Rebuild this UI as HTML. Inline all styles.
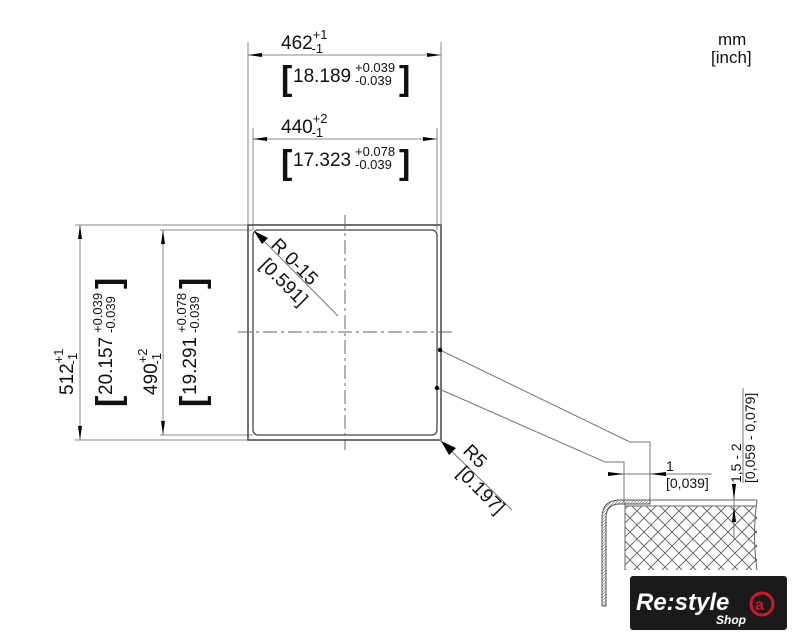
<!DOCTYPE html>
<html><head><meta charset="utf-8"><style>
html,body{margin:0;padding:0;background:#fff;}
svg{display:block;font-family:"Liberation Sans",Arial,sans-serif;}
</style></head><body>
<svg width="800" height="640" viewBox="0 0 800 640" xmlns="http://www.w3.org/2000/svg">
<defs>
<pattern id="hx" width="14" height="14" patternUnits="userSpaceOnUse">
<path d="M0 0L14 14M14 0L0 14" stroke="#555" stroke-width="0.8" fill="none"/>
</pattern>
<pattern id="hs" width="3" height="3" patternUnits="userSpaceOnUse">
<path d="M0 3L3 0" stroke="#666" stroke-width="0.6"/>
</pattern>
</defs>
<g stroke="#888" stroke-width="1" fill="none">
<line x1="248" y1="42" x2="248" y2="225"/>
<line x1="441" y1="42" x2="441" y2="225"/>
<line x1="253" y1="128" x2="253" y2="230"/>
<line x1="437" y1="128" x2="437" y2="230"/>
<line x1="248" y1="55" x2="441" y2="55"/>
<line x1="253" y1="139" x2="437" y2="139"/>
<line x1="75" y1="225" x2="248" y2="225"/>
<line x1="75" y1="440" x2="248" y2="440"/>
<line x1="160" y1="230" x2="253" y2="230"/>
<line x1="160" y1="435" x2="253" y2="435"/>
<line x1="80" y1="225" x2="80" y2="440"/>
<line x1="163" y1="230" x2="163" y2="435"/>
</g>
<g fill="#000">
<polygon points="248,55 262,53 262,57"/><polygon points="441,55 427,53 427,57"/>
<polygon points="253,139 267,137 267,141"/><polygon points="437,139 423,137 423,141"/>
<polygon points="80,225 78,239 82,239"/><polygon points="80,440 78,426 82,426"/>
<polygon points="163,230 161,244 165,244"/><polygon points="163,435 161,421 165,421"/>
</g>
<rect x="248" y="225" width="193" height="215" fill="none" stroke="#444" stroke-width="1.5"/>
<rect x="253" y="230" width="184" height="205" rx="5" fill="none" stroke="#444" stroke-width="1.3"/>
<g stroke="#666" stroke-width="1" stroke-dasharray="14,4,3,4">
<line x1="345" y1="215" x2="345" y2="450"/>
<line x1="238" y1="332" x2="452" y2="332"/>
</g>
<line x1="254" y1="231" x2="338" y2="316" stroke="#777" stroke-width="1"/>
<polygon points="254,231 268,238 262,244" fill="#000"/>
<line x1="441" y1="441" x2="512" y2="510" stroke="#777" stroke-width="1"/>
<polygon points="441,441 456,448 449,455" fill="#000"/>
<g font-size="19" fill="#111">
<text transform="translate(270,246) rotate(45)">R 0-15</text>
<text transform="translate(259,266) rotate(45)">[0.591]</text>
<text transform="translate(462,452) rotate(45)">R5</text>
<text transform="translate(456,474) rotate(45)">[0.197]</text>
</g>
<g stroke="#777" stroke-width="1" fill="none">
<polyline points="440,350 630,442 650,442 650,503"/>
<polyline points="437,388 605,462 624,462 624,503"/>
</g>
<circle cx="440" cy="350" r="2.2" fill="#000"/>
<circle cx="437" cy="388" r="2.2" fill="#000"/>
<g fill="#111">
<text x="281" y="49" font-size="19">462<tspan font-size="13" dy="-10">+1</tspan><tspan font-size="13" dx="-16" dy="14">-1</tspan></text>
<text x="281" y="90" font-size="34" font-weight="bold">[</text>
<text x="293" y="82" font-size="19">18.189</text>
<text x="355" y="72" font-size="13">+0.039</text>
<text x="355" y="85" font-size="13">-0.039</text>
<text x="399" y="90" font-size="34" font-weight="bold">]</text>
<text x="281" y="133" font-size="19">440<tspan font-size="13" dy="-10">+2</tspan><tspan font-size="13" dx="-16" dy="14">-1</tspan></text>
<text x="281" y="174" font-size="34" font-weight="bold">[</text>
<text x="293" y="166" font-size="19">17.323</text>
<text x="355" y="156" font-size="13">+0.078</text>
<text x="355" y="169" font-size="13">-0.039</text>
<text x="399" y="174" font-size="34" font-weight="bold">]</text>
<g transform="translate(73,395) rotate(-90)">
<text x="0" y="0" font-size="19">512<tspan font-size="13" dy="-10">+1</tspan><tspan font-size="13" dx="-16" dy="14">-1</tspan></text>
</g>
<g transform="translate(112,395) rotate(-90)">
<text x="-12" y="8" font-size="34" font-weight="bold">[</text>
<text x="0" y="0" font-size="19">20.157</text>
<text x="62" y="-10" font-size="13">+0.039</text>
<text x="62" y="3" font-size="13">-0.039</text>
<text x="106" y="8" font-size="34" font-weight="bold">]</text>
</g>
<g transform="translate(157,395) rotate(-90)">
<text x="0" y="0" font-size="19">490<tspan font-size="13" dy="-10">+2</tspan><tspan font-size="13" dx="-16" dy="14">-1</tspan></text>
</g>
<g transform="translate(196,395) rotate(-90)">
<text x="-12" y="8" font-size="34" font-weight="bold">[</text>
<text x="0" y="0" font-size="19">19.291</text>
<text x="62" y="-10" font-size="13">+0.078</text>
<text x="62" y="3" font-size="13">-0.039</text>
<text x="106" y="8" font-size="34" font-weight="bold">]</text>
</g>
<text x="718" y="45" font-size="17">mm</text>
<text x="711" y="63" font-size="17">[inch]</text>
</g>
<rect x="625" y="506" width="132" height="64" fill="url(#hx)"/>
<g stroke="#666" stroke-width="1" fill="none">
<line x1="625" y1="500" x2="757" y2="500"/>
<line x1="625" y1="506" x2="757" y2="506"/>
<line x1="625" y1="503" x2="625" y2="570"/>
<path d="M757 500 Q752 535 757 570"/>
</g>
<path d="M650 500 L620 500 Q602 500 602 518 L602 606 L606 606 L606 518 Q606 504 620 504 L650 504 Z" fill="url(#hs)" stroke="#555" stroke-width="1"/>
<line x1="618" y1="474" x2="712" y2="474" stroke="#777" stroke-width="1"/>
<polygon points="624,474 608,472 608,476" fill="#000"/>
<polygon points="650,474 666,472 666,476" fill="#000"/>
<g fill="#111" font-size="14">
<text x="666" y="471">1</text>
<text x="666" y="488">[0,039]</text>
<g transform="translate(741,483) rotate(-90)"><text x="0" y="0">1,5 - 2</text></g>
<g transform="translate(743,483) rotate(-90)"><line x1="0" y1="0" x2="95" y2="0" stroke="#777"/><text x="0" y="12">[0,059 - 0,079]</text></g>
</g>
<line x1="734" y1="483" x2="734" y2="540" stroke="#777" stroke-width="1"/>
<polygon points="734,500 732,484 736,484" fill="#000"/>
<polygon points="734,506 732,522 736,522" fill="#000"/>
<rect x="630" y="576" width="157" height="54" rx="3" fill="#1a1a1a"/>
<text x="636" y="610" font-size="24" font-style="italic" font-weight="bold" fill="#fff">Re:style</text>
<text x="716" y="624" font-size="12" font-style="italic" font-weight="bold" fill="#fff">Shop</text>
<circle cx="762" cy="604" r="11" fill="none" stroke="#d0182c" stroke-width="3"/>
<text x="755" y="610" font-size="16" font-weight="bold" fill="#d0182c">a</text>
</svg>
</body></html>
